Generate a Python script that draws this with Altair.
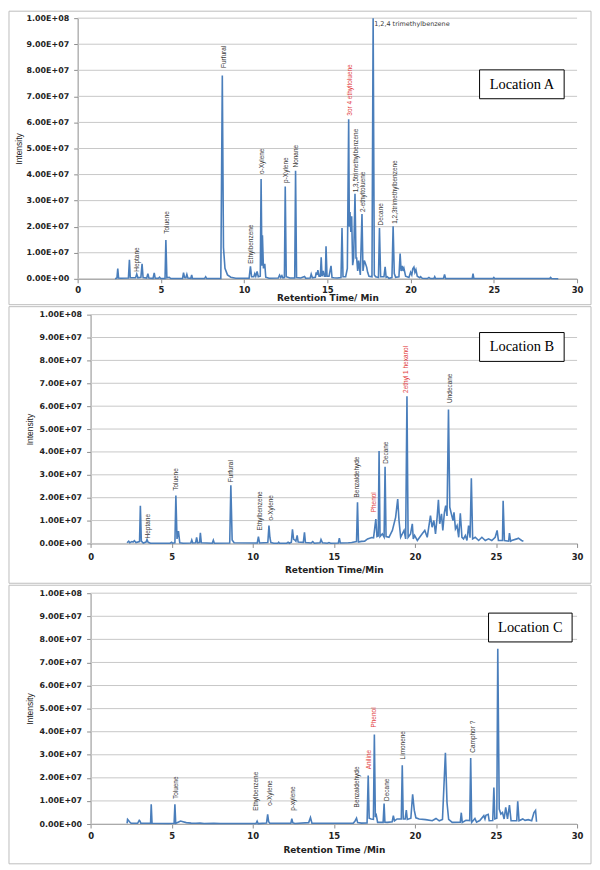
import altair as alt
import pandas as pd

x_ticks = [0, 5, 10, 15, 20, 25, 30]
y_ticks = [0, 1e7, 2e7, 3e7, 4e7, 5e7, 6e7, 7e7, 8e7, 9e7, 1e8]

# chromatogram traces: (retention time in min, intensity in millions)
trace_A = [
    (2.25, 0), (2.36, 0.3), (2.41, 3.9), (2.46, 0.3), (2.6, 0.2), (3.05, 0.3), (3.11, 7.3), (3.16, 0.4),
    (3.48, 0.4), (3.55, 1.8), (3.62, 0.4), (3.8, 0.6), (3.87, 5.8), (3.93, 0.5), (4.15, 0.3), (4.22, 2.0),
    (4.28, 0.3), (4.53, 0.2), (4.6, 2.3), (4.66, 0.2), (4.85, 0.2), (4.92, 0.6), (4.98, 0.1), (5.25, 0.1),
    (5.30, 14.9), (5.36, 0.4), (5.5, 0.6), (5.6, 0.1), (6.3, 0.1), (6.36, 2.4), (6.42, 0.5), (6.5, 0.4),
    (6.56, 1.7), (6.62, 0.3), (6.8, 0.2), (6.85, 1.5), (6.9, 0.1), (7.62, 0.1), (7.69, 0.8), (7.75, 0.1),
    (8.6, 0.1), (8.69, 78.0), (8.76, 12.0), (8.85, 4.0), (9.0, 1.5), (9.2, 0.6), (9.5, 0.2), (10.3, 0.2),
    (10.38, 4.8), (10.45, 0.8), (10.58, 0.8), (10.64, 2.0), (10.7, 1.0), (10.78, 2.8), (10.85, 0.8),
    (10.97, 1.0), (11.02, 38.3), (11.07, 5.0), (11.1, 16.7), (11.16, 4.0), (11.24, 5.8), (11.3, 0.6),
    (11.5, 0.2), (12.05, 0.3), (12.13, 1.4), (12.2, 0.5), (12.27, 1.2), (12.33, 0.4), (12.42, 0.5),
    (12.47, 35.4), (12.53, 0.8), (12.75, 0.3), (13.04, 0.3), (13.09, 41.5), (13.15, 0.5), (13.4, 0.3),
    (13.63, 0.9), (13.7, 0.2), (13.97, 0.3), (14.03, 1.8), (14.1, 0.4), (14.28, 0.6), (14.33, 2.5),
    (14.38, 1.5), (14.43, 3.3), (14.5, 1.0), (14.58, 1.0), (14.63, 8.3), (14.68, 1.0), (14.75, 3.0),
    (14.82, 1.0), (14.88, 1.0), (14.92, 12.5), (14.98, 1.0), (15.1, 1.0), (15.22, 5.0), (15.28, 0.5),
    (15.4, 0.4), (15.6, 0.3), (15.82, 0.5), (15.88, 19.5), (15.94, 0.8), (16.1, 0.8), (16.2, 4.0),
    (16.28, 61.2), (16.32, 20.0), (16.36, 25.6), (16.41, 18.0), (16.46, 24.0), (16.52, 5.2), (16.58, 8.0),
    (16.66, 32.6), (16.72, 8.0), (16.76, 8.0), (16.82, 3.0), (16.88, 7.0), (16.98, 1.5), (17.08, 24.9),
    (17.14, 3.0), (17.22, 7.0), (17.28, 6.0), (17.36, 4.5), (17.42, 2.5), (17.5, 1.0), (17.68, 0.8),
    (17.75, 100.0), (17.82, 1.5), (17.9, 0.8), (18.07, 0.5), (18.13, 19.5), (18.2, 0.8), (18.4, 0.8),
    (18.47, 4.6), (18.53, 0.6), (18.6, 0.8), (18.7, 0.2), (18.88, 0.5), (18.95, 20.2), (19.02, 2.0),
    (19.1, 0.6), (19.3, 0.8), (19.37, 9.7), (19.43, 3.0), (19.5, 5.0), (19.55, 3.0), (19.6, 4.0),
    (19.7, 1.0), (19.9, 0.5), (20.0, 2.5), (20.07, 1.5), (20.13, 3.8), (20.2, 4.5), (20.26, 2.5),
    (20.32, 3.5), (20.4, 1.0), (20.55, 0.4), (20.6, 0.8), (20.7, 0.2), (21.0, 0.1), (21.1, 0.5),
    (21.2, 0.1), (21.4, 0.1), (21.45, 0.8), (21.5, 0.1), (21.98, 0.2), (22.04, 1.7), (22.1, 0.1),
    (23.7, 0.1), (23.75, 2.0), (23.8, 0.1), (24.95, 0.1), (25.0, 0.5), (25.05, 0.1), (28.35, 0.1),
    (28.41, 0.5), (28.47, 0.1), (28.87, 0.0),
]

trace_B = [
    (2.25, 0.3), (2.35, 1.0), (2.42, 0.3), (2.55, 0.8), (2.62, 0.6), (2.7, 1.2), (2.8, 0.4), (3.02, 0.8),
    (3.07, 16.5), (3.13, 1.0), (3.25, 0.2), (3.42, 0.6), (3.48, 1.7), (3.55, 0.5), (3.7, 0.1), (4.9, 0.1),
    (5.0, 0.5), (5.05, 0.1), (5.2, 0.3), (5.26, 20.9), (5.33, 2.0), (5.42, 5.4), (5.5, 0.3), (5.7, 0.1),
    (6.18, 0.2), (6.24, 1.5), (6.3, 0.2), (6.48, 0.3), (6.54, 2.6), (6.6, 0.3), (6.72, 0.4), (6.77, 4.6),
    (6.83, 0.3), (7.5, 0.1), (7.57, 1.4), (7.63, 0.1), (8.58, 0.2), (8.65, 25.4), (8.73, 1.5), (8.85, 0.3),
    (10.28, 0.2), (10.35, 3.0), (10.42, 0.2), (10.93, 0.4), (11.0, 7.8), (11.06, 2.5), (11.12, 0.4),
    (11.3, 0.1), (11.55, 0.1), (11.6, 0.5), (11.65, 0.1), (12.1, 0.1), (12.18, 0.5), (12.26, 0.1),
    (12.38, 0.5), (12.45, 6.2), (12.52, 1.8), (12.6, 1.5), (12.66, 1.0), (12.74, 3.5), (12.8, 0.6),
    (13.12, 0.5), (13.19, 4.9), (13.25, 0.4), (13.6, 0.2), (13.7, 0.8), (13.8, 0.1), (14.15, 0.3),
    (14.21, 1.7), (14.3, 0.3), (14.6, 0.1), (14.7, 0.4), (14.8, 0.1), (15.28, 0.2), (15.34, 2.3),
    (15.4, 0.2), (15.9, 0.3), (16.1, 0.4), (16.4, 0.8), (16.46, 18.0), (16.52, 0.6), (16.7, 0.9),
    (16.9, 1.0), (17.08, 2.0), (17.34, 2.6), (17.45, 2.5), (17.59, 10.7), (17.66, 3.0), (17.74, 3.3),
    (17.79, 40.4), (17.85, 3.0), (17.99, 4.2), (18.1, 2.8), (18.16, 33.5), (18.22, 3.0), (18.4, 2.7),
    (18.61, 5.7), (18.81, 11.4), (18.94, 19.4), (19.02, 10.0), (19.12, 2.7), (19.33, 5.7), (19.43, 2.0),
    (19.51, 64.3), (19.58, 2.7), (19.73, 4.2), (19.84, 8.6), (19.9, 2.0), (19.98, 3.5), (20.15, 1.3),
    (20.45, 4.2), (20.61, 5.7), (20.76, 2.7), (20.96, 12.2), (21.06, 7.1), (21.17, 10.0), (21.27, 4.2),
    (21.37, 11.4), (21.45, 19.1), (21.53, 8.6), (21.64, 12.9), (21.72, 5.7), (21.82, 13.6), (21.9, 16.5),
    (21.98, 12.0), (22.07, 58.5), (22.15, 15.8), (22.25, 12.9), (22.35, 10.0), (22.41, 13.6), (22.5, 6.4),
    (22.6, 7.8), (22.7, 2.7), (22.8, 13.2), (22.9, 2.7), (23.0, 2.0), (23.11, 3.5), (23.21, 1.3),
    (23.31, 7.8), (23.4, 2.5), (23.48, 28.5), (23.56, 2.0), (23.72, 2.7), (23.93, 1.3), (24.13, 2.7),
    (24.34, 1.3), (24.54, 2.0), (24.74, 1.3), (24.95, 2.7), (25.07, 5.7), (25.15, 1.3), (25.4, 1.3),
    (25.44, 18.7), (25.52, 1.3), (25.78, 1.0), (25.83, 4.5), (25.9, 1.0), (25.97, 1.3), (26.28, 2.0),
    (26.38, 2.3), (26.58, 1.3), (26.69, 1.0),
]

trace_C = [
    (2.25, 0.3), (2.28, 2.0), (2.33, 1.6), (2.4, 1.0), (2.5, 0.3), (2.9, 0.3), (3.0, 1.6), (3.05, 1.2),
    (3.1, 0.3), (3.7, 0.3), (3.74, 8.6), (3.79, 0.3), (4.8, 0.2), (5.15, 0.3), (5.2, 8.6), (5.25, 0.3),
    (5.4, 0.8), (5.55, 1.3), (5.7, 1.0), (5.9, 0.6), (6.2, 0.4), (6.5, 0.3), (6.75, 0.4), (7.0, 0.2),
    (7.6, 0.3), (8.0, 0.2), (10.2, 0.2), (10.27, 1.2), (10.33, 0.2), (10.85, 0.4), (10.92, 4.2),
    (10.98, 1.0), (11.05, 0.3), (12.35, 0.3), (12.41, 2.3), (12.47, 0.5), (12.6, 0.2), (13.45, 0.6),
    (13.56, 2.8), (13.65, 0.4), (14.5, 0.3), (16.2, 0.4), (16.3, 1.2), (16.4, 2.5), (16.47, 0.6),
    (16.7, 0.4), (17.05, 0.5), (17.12, 21.0), (17.18, 2.5), (17.3, 2.2), (17.44, 2.0), (17.5, 38.8),
    (17.56, 3.0), (17.62, 3.8), (17.7, 0.7), (18.04, 0.7), (18.1, 8.9), (18.15, 0.8), (18.3, 0.7),
    (18.6, 1.0), (18.67, 3.6), (18.74, 1.4), (18.9, 2.2), (19.16, 2.2), (19.22, 25.4), (19.28, 2.2),
    (19.4, 2.2), (19.47, 6.0), (19.53, 2.0), (19.75, 2.5), (19.86, 12.9), (19.96, 6.0), (20.06, 2.7),
    (20.26, 2.2), (20.66, 1.9), (21.07, 1.4), (21.3, 2.4), (21.5, 1.4), (21.7, 2.0), (21.88, 30.9),
    (21.98, 9.2), (22.08, 2.0), (22.3, 0.7), (22.8, 0.8), (22.86, 4.9), (22.92, 0.7), (23.15, 1.6),
    (23.38, 1.5), (23.44, 28.6), (23.5, 0.7), (23.7, 2.4), (23.8, 0.8), (24.0, 1.5), (24.25, 3.6),
    (24.32, 2.2), (24.38, 3.8), (24.52, 4.2), (24.58, 1.4), (24.8, 1.5), (24.87, 15.8), (24.93, 2.2),
    (25.05, 2.5), (25.11, 75.9), (25.2, 6.5), (25.3, 4.3), (25.4, 5.0), (25.5, 2.2), (25.6, 7.2),
    (25.71, 2.2), (25.83, 8.2), (25.93, 1.4), (26.28, 1.4), (26.34, 9.8), (26.42, 1.4), (26.65, 2.2),
    (26.79, 1.6), (26.99, 1.9), (27.2, 1.4), (27.34, 4.9), (27.44, 5.9), (27.5, 1.0),
]

# peak labels: name, retention time, intensity (millions) at the foot of the label
labels_A = [
    ("Heptane", 3.57, 2.7), ("Toluene", 5.36, 17.3), ("Furfural", 8.79, 80.9),
    ("Ethylbenzene", 10.44, 5.8), ("o-Xylene", 11.10, 40.2), ("p-Xylene", 12.49, 36.8),
    ("Nonane", 13.09, 42.7), ("3or 4 ethyltoluene", 16.36, 62.6), ("1,3,5trimethylbenzene", 16.72, 33.2),
    ("2-ethyltoluene", 17.17, 25.6), ("Decane", 18.21, 20.5), ("1,2,3trimethylbenzene", 19.05, 21.1),
]
red_A = ["3or 4 ethyltoluene"]
flat_label_A = [("1,2,4 trimethylbenzene", 17.81, 97.7)]

labels_B = [
    ("Heptane", 3.52, 2.2), ("Toluene", 5.26, 23.0), ("Furfural", 8.69, 26.7),
    ("Ethylbenzene", 10.43, 5.7), ("o-Xylene", 11.15, 10.0), ("Benzaldehyde", 16.46, 20.1),
    ("Phenol", 17.48, 13.6), ("Decane", 18.24, 34.8), ("2ethyl 1 hexanol", 19.43, 65.8),
    ("Undecane", 22.19, 61.4),
]
red_B = ["Phenol", "2ethyl 1 hexanol"]

labels_C = [
    ("Toluene", 5.26, 10.8), ("Ethylbenzene", 10.23, 5.7), ("o-Xylene", 11.09, 7.9),
    ("p-xylene", 12.47, 5.7), ("Benzaldehyde", 16.46, 7.2), ("Aniline", 17.18, 23.7),
    ("Phenol", 17.47, 41.8), ("Decane", 18.30, 10.0), ("Limonene", 19.28, 28.0),
    ("Camphor ?", 23.58, 30.9),
]
red_C = ["Aniline", "Phenol"]

locations = ["Location A", "Location B", "Location C"]
x_titles = ["Retention Time/ Min", "Retention Time/Min", "Retention Time /Min"]

LINE = "#4a7ebb"
Y_LABEL = "replace(upper(format(datum.value, '.2e')), 'E+', 'E+0')"


def make_panel(trace, labels, reds, loc, xtitle, rng, yoff, h, brd, box, lpad, tpad, ytpad, flat=None):
    line_df = pd.DataFrame({"t": [p[0] for p in trace], "v": [p[1] * 1e6 for p in trace]})
    lab_df = pd.DataFrame({
        "name": [l[0] for l in labels],
        "t": [l[1] for l in labels],
        "v": [l[2] * 1e6 for l in labels],
        "kind": ["red" if l[0] in reds else "black" for l in labels],
    })
    grid_df = pd.DataFrame({"v": y_ticks})
    xs = alt.Scale(domain=[0, 30], range=rng, nice=False, zero=False)
    ys = alt.Scale(domain=[0, 1e8], nice=False)
    x_axis = alt.Axis(values=x_ticks, format="d", grid=False, title=xtitle,
                      domainColor="#8c8c8c", tickColor="#8c8c8c", tickSize=4,
                      labelFont="DejaVu Sans", labelFontWeight="bold", labelFontSize=8.5,
                      labelColor="#222222", labelPadding=lpad, labelFlush=False,
                      titleFont="DejaVu Sans", titleFontWeight="bold", titleFontSize=9,
                      titleColor="#222222", titlePadding=tpad)
    y_axis = alt.Axis(values=y_ticks, labelExpr=Y_LABEL, grid=False, title="Intensity",
                      offset=yoff, domainColor="#8c8c8c", tickColor="#8c8c8c", tickSize=4,
                      labelFont="DejaVu Sans", labelFontWeight="bold", labelFontSize=8,
                      labelColor="#222222", labelPadding=5,
                      titleFont="Liberation Sans", titleFontWeight="normal", titleFontSize=8.5,
                      titleColor="#222222", titlePadding=ytpad)
    X = alt.X("t:Q", scale=xs, axis=x_axis)
    Y = alt.Y("v:Q", scale=ys, axis=y_axis)

    one = pd.DataFrame({"o": [0]})
    border = alt.Chart(one).mark_rect(fillOpacity=0, stroke="#bdbdbd", strokeWidth=1).encode(
        x=alt.value(brd[0]), x2=alt.value(brd[1]), y=alt.value(brd[2]), y2=alt.value(brd[3]))
    grid = alt.Chart(grid_df).mark_rule(color="#c8c8c8", strokeWidth=1).encode(
        y=Y, x=alt.datum(0), x2=alt.datum(30))
    line = alt.Chart(line_df).mark_line(color=LINE, strokeWidth=1.6, strokeJoin="miter").encode(x=X, y=Y)
    text = alt.Chart(lab_df).mark_text(angle=270, align="left", baseline="middle",
                                       font="Liberation Sans", fontSize=6.5).encode(
        x=X, y=Y, text="name:N",
        color=alt.Color("kind:N", scale=alt.Scale(domain=["black", "red"], range=["#3a3a3a", "#e23c3c"]),
                        legend=None))
    rect = alt.Chart(one).mark_rect(fill="white", stroke="black", strokeWidth=1).encode(
        x=alt.value(box[0]), x2=alt.value(box[1]), y=alt.value(box[2]), y2=alt.value(box[3]))
    loc_text = alt.Chart(one).mark_text(font="Liberation Serif", fontSize=14.5, color="black",
                                        align="center", baseline="middle").encode(
        x=alt.value((box[0] + box[1]) / 2), y=alt.value((box[2] + box[3]) / 2 + 0.5),
        text=alt.value(loc))
    layers = [border, grid, line, text, rect, loc_text]
    if flat:
        flat_df = pd.DataFrame({"name": [f[0] for f in flat], "t": [f[1] for f in flat],
                                "v": [f[2] * 1e6 for f in flat]})
        layers.append(alt.Chart(flat_df).mark_text(align="left", baseline="middle", font="DejaVu Sans",
                                                   fontSize=6.5, color="#3a3a3a").encode(
            x=X, y=Y, text="name:N"))
    return alt.layer(*layers).properties(width=489, height=h)


panel_A = make_panel(trace_A, labels_A, red_A, locations[0], x_titles[0], [-13, 489], 13, 262,
                     (-82, 503, -7, 288), (391, 476, 52, 81), 2.5, 0, 2, flat=flat_label_A)
panel_B = make_panel(trace_B, labels_B, red_B, locations[1], x_titles[1], [0, 489], 0, 230,
                     (-82, 503, -8, 270), (391, 476, 18, 47), 5.5, 4, 4.5)
panel_C = make_panel(trace_C, labels_C, red_C, locations[2], x_titles[2], [0, 489], 0, 232,
                     (-82, 503, -8, 272), (400, 484, 20, 49), 3.5, 6, 4.5)

chart = alt.vconcat(panel_A, panel_B, panel_C, spacing=0).properties(padding=0).configure_view(stroke=None)

chart.save("out.html", embed_options={"renderer": "svg", "actions": False})
